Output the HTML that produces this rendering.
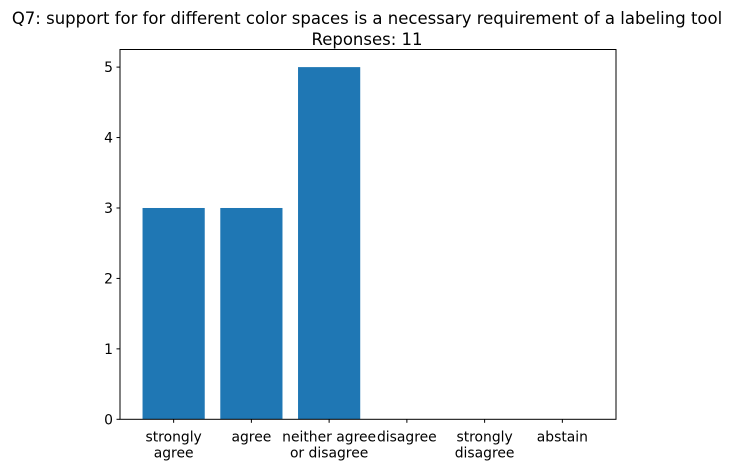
<!DOCTYPE html>
<html><head><meta charset="utf-8"><style>
body{margin:0;background:#fff;width:735px;height:469px;overflow:hidden}
svg{font-family:"DejaVu Sans","Liberation Sans",sans-serif}
</style></head><body>
<svg id="chart" width="735" height="469" xmlns="http://www.w3.org/2000/svg">
<text x="367" y="24" text-anchor="middle" font-size="16.5" fill="#000">Q7: support for for different color spaces is a necessary requirement of a labeling tool</text>
<text x="367" y="45" text-anchor="middle" font-size="16.5" fill="#000">Reponses: 11</text>
<g id="bars"></g><g id="axes"></g>
</svg>
<script>
const categories=[["strongly","agree"],["agree"],["neither agree","or disagree"],["disagree"],["strongly","disagree"],["abstain"]];
const values=[3,3,5,0,0,0];
const yTicks=[0,1,2,3,4,5];
const L=120,R=616,T=49.5,B=419.3;
const xmin=-0.69,xmax=5.69,ymax=5.25;
const x=v=>L+(v-xmin)/(xmax-xmin)*(R-L);
const y=v=>B-v/ymax*(B-T);
const NS="http://www.w3.org/2000/svg";
const bars=document.getElementById('bars'),axes=document.getElementById('axes');
function mk(tag,attrs,parent){const e=document.createElementNS(NS,tag);for(const k in attrs)e.setAttribute(k,attrs[k]);parent.appendChild(e);return e;}
values.forEach((v,i)=>{
  const r=mk('rect',{x:x(i-0.4),y:y(v),width:x(i+0.4)-x(i-0.4),height:B-y(v),fill:'#1f77b4'},bars);
  
  
});
const frame=mk('rect',{x:L,y:T,width:R-L,height:B-T,fill:'none',stroke:'#000','stroke-width':1},axes);


yTicks.forEach(t=>{
  const ln=mk('line',{x1:L-3.5,x2:L,y1:y(t),y2:y(t),stroke:'#000'},axes);
  
  
  const tx=mk('text',{x:L-7,y:y(t)+5,'text-anchor':'end','font-size':13.9},axes);
  tx.textContent=t;
  
  
});
categories.forEach((c,i)=>{
  const ln=mk('line',{x1:x(i),x2:x(i),y1:B,y2:B+3.5,stroke:'#000'},axes);
  
  
  c.forEach((s,j)=>{
    const tx=mk('text',{x:x(i),y:B+22+j*16,'text-anchor':'middle','font-size':13.9},axes);
    tx.textContent=s;
    
    
  });
});
</script>
</body></html>
